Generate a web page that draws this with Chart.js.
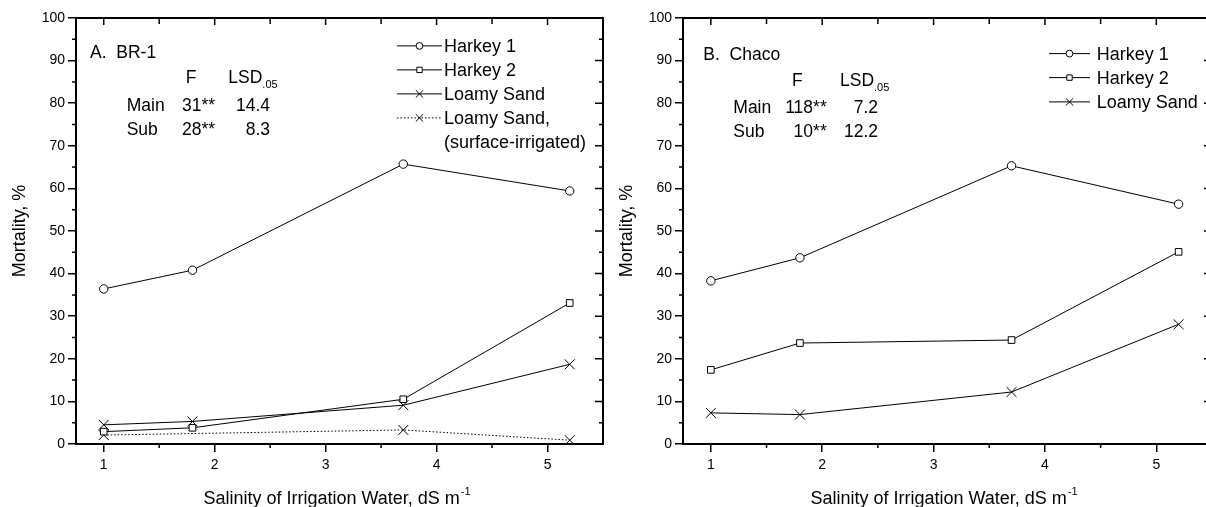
<!DOCTYPE html>
<html><head><meta charset="utf-8">
<script src="https://cdn.jsdelivr.net/npm/chart.js@4.4.0/dist/chart.umd.min.js"></script>
<style>
html,body{margin:0;padding:0;background:#fff;overflow:hidden;width:1206px;height:507px;}
#wrap{position:relative;width:1206px;height:507px;overflow:hidden;background:#fff;}
canvas{position:absolute;top:0;}
#cA{left:0;width:611px;height:507px;}
#cB{left:607px;width:613px;height:507px;}
</style></head><body>
<div id="wrap"><canvas id="cA" width="611" height="507"></canvas><canvas id="cB" width="613" height="507"></canvas></div>
<script>
const FONT = "'Liberation Sans', Arial, Helvetica, sans-serif";

// ---- data ----
const xValues = [1, 1.8, 3.7, 5.2];
const xTickValues = [1, 2, 3, 4, 5];
const xMinorTicks = [1.5, 2.5, 3.5, 4.5];
const yTickValues = [0, 10, 20, 30, 40, 50, 60, 70, 80, 90, 100];
const yMinorTicks = [5, 15, 25, 35, 45, 55, 65, 75, 85, 95];
const seriesLabels = ['Harkey 1', 'Harkey 2', 'Loamy Sand', 'Loamy Sand, (surface-irrigated)'];

// Panel A: BR-1
const brHarkey1 = [36.4, 40.8, 65.7, 59.4];
const brHarkey2 = [2.9, 3.8, 10.5, 33.1];
const brLoamySand = [4.5, 5.3, 9.1, 18.7];
const brLoamySandSurface = [2.1, null, 3.3, 0.9];

// Panel B: Chaco
const chHarkey1 = [38.3, 43.7, 65.3, 56.3];
const chHarkey2 = [17.4, 23.7, 24.4, 45.1];
const chLoamySand = [7.3, 6.9, 12.2, 28.1];

// statistics text
const statRowLabels = ['Main', 'Sub'];
const brF = ['31**', '28**'];
const brLSD = ['14.4', '8.3'];
const chF = ['118**', '10**'];
const chLSD = ['7.2', '12.2'];

const xTitle = 'Salinity of Irrigation Water, dS m';
const xTitleSup = '-1';
const yTitle = 'Mortality, %';

// ---- styles ----
const markerStyles = [
  {pointStyle: 'circle', r: 4.2, lr: 3.4, dash: []},
  {pointStyle: 'rect', r: 4.7, lr: 3.8, dash: []},
  {pointStyle: 'crossRot', r: 7, lr: 5.2, dash: []},
  {pointStyle: 'crossRot', r: 7, lr: 5.2, dash: [1.5, 2]}
];

function ds(i, values) {
  const s = markerStyles[i];
  return {
    label: seriesLabels[i],
    data: xValues.map((x, k) => ({x: x, y: values[k]})).filter(p => p.y !== null),
    borderColor: '#000', borderWidth: 1, borderDash: s.dash,
    pointStyle: s.pointStyle, pointRadius: s.r,
    pointBorderColor: '#000', pointBackgroundColor: '#fff', pointBorderWidth: 1,
    tension: 0, fill: false, spanGaps: true,
    legendRadius: s.lr, styleIndex: i
  };
}

function txt(ctx, s, x, y, size, align) {
  ctx.font = size + 'px ' + FONT;
  ctx.textAlign = align || 'left';
  ctx.textBaseline = 'alphabetic';
  ctx.fillStyle = '#000';
  ctx.fillText(s, x, y);
}

function drawMarker(ctx, style, r, x, y) {
  ctx.save();
  ctx.setLineDash([]);
  ctx.lineWidth = 1;
  ctx.strokeStyle = '#000';
  ctx.fillStyle = '#fff';
  Chart.helpers.drawPoint(ctx, {pointStyle: style, radius: r, rotation: 0, borderWidth: 1}, x, y);
  ctx.restore();
}

const decor = {
  id: 'decor',
  afterDraw(chart, args, p) {
    const ctx = chart.ctx, a = chart.chartArea, xs = chart.scales.x, ys = chart.scales.y;
    ctx.save();
    // frame: top and right
    ctx.strokeStyle = '#000';
    ctx.lineWidth = 2;
    ctx.beginPath();
    ctx.moveTo(a.left - 1, a.top);
    ctx.lineTo(a.right, a.top);
    ctx.lineTo(a.right, a.bottom + 1);
    ctx.stroke();
    // ticks
    ctx.lineWidth = 1.5;
    ctx.beginPath();
    yMinorTicks.forEach(v => {
      const y = ys.getPixelForValue(v);
      ctx.moveTo(a.left, y); ctx.lineTo(a.left - 4, y);
      ctx.moveTo(a.right, y); ctx.lineTo(a.right - 4, y);
    });
    yTickValues.forEach(v => {
      const y = ys.getPixelForValue(v);
      ctx.moveTo(a.right, y); ctx.lineTo(a.right - 8, y);
    });
    xMinorTicks.forEach(v => {
      const x = xs.getPixelForValue(v);
      ctx.moveTo(x, a.bottom); ctx.lineTo(x, a.bottom + 4);
      ctx.moveTo(x, a.top); ctx.lineTo(x, a.top + 6);
    });
    xTickValues.forEach(v => {
      const x = xs.getPixelForValue(v);
      ctx.moveTo(x, a.top); ctx.lineTo(x, a.top + 7);
    });
    ctx.stroke();

    // x-axis title with superscript
    ctx.font = '18px ' + FONT;
    const w1 = ctx.measureText(xTitle).width;
    ctx.font = '11px ' + FONT;
    const w2 = ctx.measureText(xTitleSup).width;
    const cx = a.left + 261;
    const sx = cx - (w1 + w2 + 1) / 2;
    txt(ctx, xTitle, sx, 504, 18);
    txt(ctx, xTitleSup, sx + w1 + 1, 495, 11);

    // panel label + stats
    const n = p.ann;
    txt(ctx, p.title, n.titleX, n.titleY, 17.5);
    txt(ctx, 'F', n.fX, n.hdrY, 17.5, 'center');
    ctx.font = '17.5px ' + FONT;
    const wl = ctx.measureText('LSD').width;
    txt(ctx, 'LSD', n.lsdX, n.hdrY, 17.5);
    txt(ctx, '.05', n.lsdX + wl, n.hdrY + 5, 11);
    statRowLabels.forEach((lab, i) => {
      txt(ctx, lab, n.rowX, n.rowY[i], 17.5);
      txt(ctx, p.F[i], n.col1R, n.rowY[i], 17.5, 'right');
      txt(ctx, p.LSD[i], n.col2R, n.rowY[i], 17.5, 'right');
    });

    // legend
    const L = p.legend;
    chart.data.datasets.forEach((d, i) => {
      const base = L.y[i];
      const ly = base - 6.4;
      ctx.save();
      ctx.strokeStyle = '#000';
      ctx.lineWidth = 1;
      ctx.setLineDash(d.borderDash || []);
      ctx.beginPath();
      ctx.moveTo(L.x0, ly); ctx.lineTo(L.x1, ly);
      ctx.stroke();
      ctx.restore();
      drawMarker(ctx, d.pointStyle, d.legendRadius, (L.x0 + L.x1) / 2, ly);
      const parts = d.label.split(' (');
      txt(ctx, parts[0], L.tx, base, 18);
      if (parts.length > 1) txt(ctx, '(' + parts[1], L.tx, base + 24, 18);
    });
    ctx.restore();
  }
};

function axisCommon() {
  return {
    ticks: {font: {family: FONT, size: 14}, color: '#000', maxRotation: 0, autoSkip: false},
    grid: {drawOnChartArea: false, drawTicks: true, tickLength: 8, color: '#000', lineWidth: 1.5},
    border: {display: true, color: '#000', width: 2}
  };
}

function makeChart(id, datasets, panel) {
  const xc = axisCommon(), yc = axisCommon();
  xc.ticks.padding = 5;
  yc.ticks.padding = 3;
  return new Chart(document.getElementById(id), {
    type: 'line',
    data: {datasets: datasets},
    options: {
      responsive: false, animation: false, events: [],
      layout: {padding: {top: 18, right: 7, left: 0, bottom: 0}},
      plugins: {legend: {display: false}, tooltip: {enabled: false}, decor: panel},
      scales: {
        x: Object.assign({
          type: 'linear', min: 0.75, max: 5.5,
          afterFit(s) { s.height = 63; },
          afterBuildTicks(s) { s.ticks = xTickValues.map(v => ({value: v})); },
          title: {display: false}
        }, xc),
        y: Object.assign({
          type: 'linear', min: 0, max: 100,
          afterFit(s) { s.width = 76; },
          afterBuildTicks(s) { s.ticks = yTickValues.map(v => ({value: v})); },
          title: {display: true, text: yTitle, color: '#000', font: {family: FONT, size: 18}, padding: {top: 9, bottom: 0}}
        }, yc)
      }
    },
    plugins: [decor]
  });
}

makeChart('cA', [ds(0, brHarkey1), ds(1, brHarkey2), ds(2, brLoamySand), ds(3, brLoamySandSurface)], {
  title: 'A.  BR-1', F: brF, LSD: brLSD,
  ann: {titleX: 90, titleY: 57.7, fX: 191, hdrY: 82.7, lsdX: 228.3, rowX: 126.7, rowY: [111, 135], col1R: 215, col2R: 270},
  legend: {x0: 397, x1: 442, tx: 444, y: [52.3, 76.3, 100.3, 124.3]}
});

makeChart('cB', [ds(0, chHarkey1), ds(1, chHarkey2), ds(2, chLoamySand)], {
  title: 'B.  Chaco', F: chF, LSD: chLSD,
  ann: {titleX: 96.3, titleY: 60, fX: 190.3, hdrY: 86, lsdX: 233, rowX: 126.3, rowY: [113.3, 136.7], col1R: 219.7, col2R: 271},
  legend: {x0: 442, x1: 483, tx: 489.7, y: [60, 84, 108.3]}
});
</script>
</body></html>
